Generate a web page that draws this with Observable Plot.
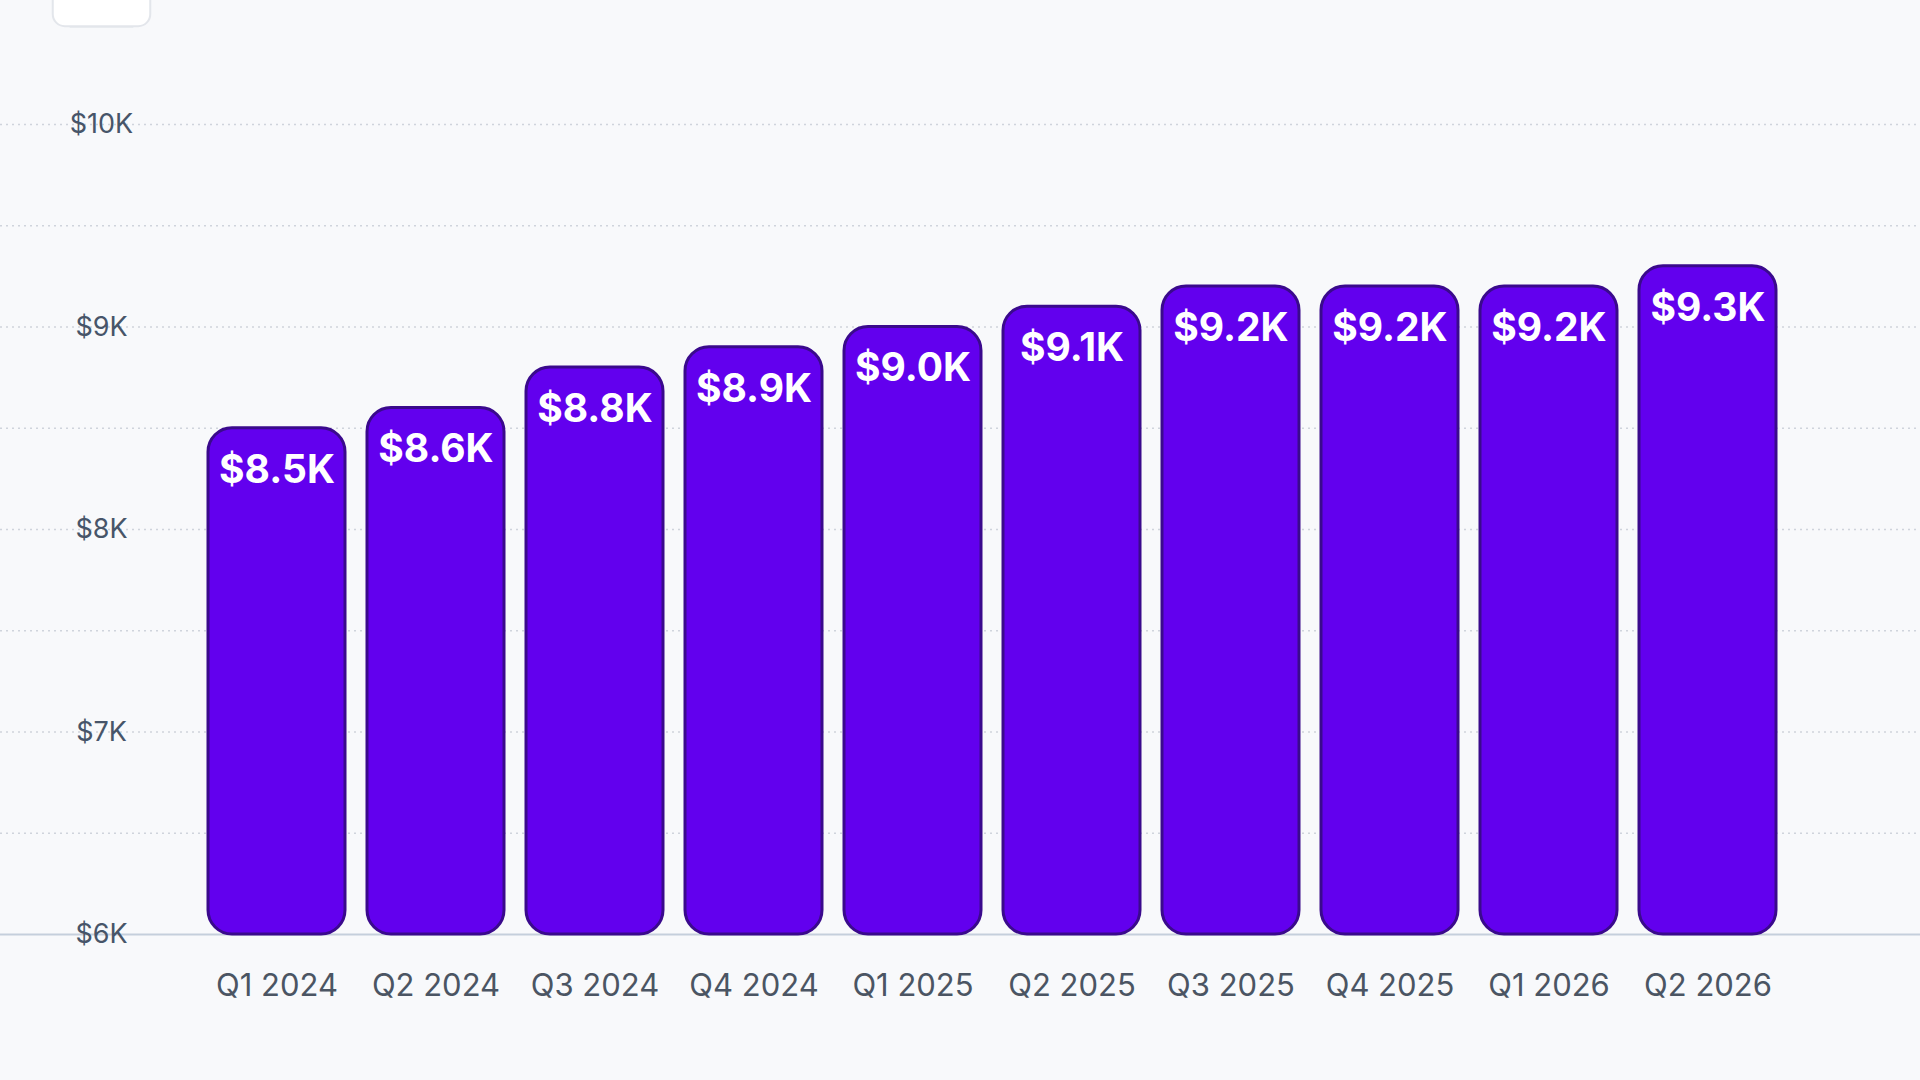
<!DOCTYPE html>
<html><head><meta charset="utf-8">
<script src="https://cdn.jsdelivr.net/npm/d3@7"></script>
<script src="https://cdn.jsdelivr.net/npm/@observablehq/plot@0.6"></script>
<style>html,body{margin:0;background:#f8f9fb;}svg{display:block;}</style>
</head><body><div id="c"></div>
<script>
const quarters = ["Q1 2024","Q2 2024","Q3 2024","Q4 2024","Q1 2025","Q2 2025","Q3 2025","Q4 2025","Q1 2026","Q2 2026"];
const values = [8500,8600,8800,8900,9000,9100,9200,9200,9200,9300];
const labels = ["$8.5K","$8.6K","$8.8K","$8.9K","$9.0K","$9.1K","$9.2K","$9.2K","$9.2K","$9.3K"];
const tickValues = [6000,7000,8000,9000,10000];
const tickLabels = ["$6K","$7K","$8K","$9K","$10K"];
const gridValues = [6500,7000,7500,8000,8500,9000,9500,10000];

const data = quarters.map((q,i)=>({q, v: values[i], label: labels[i]}));
const ticks = tickValues.map((v,i)=>({v, t: tickLabels[i]}));

const chart = Plot.plot({
  width:1920, height:1080,
  marginLeft:0, marginRight:0, marginTop:0, marginBottom:0,
  style:{background:"#f8f9fb", fontFamily:"Inter, sans-serif"},
  x:{domain:quarters, range:[183,1800], padding:0.14, axis:null},
  y:{domain:[6000,10000], range:[934,124], axis:null},
  marks:[
    Plot.ruleY(gridValues,{stroke:"#cfd4dc", strokeWidth:1.5, strokeDasharray:"2,4"}),
    Plot.ruleY([6000],{stroke:"#c5cfdc", strokeWidth:2}),
    Plot.barY(data,{x:"q", y1:6000, y2:"v", fill:"#6200ee", stroke:"#3a0a8c", strokeWidth:3, rx:24}),
    Plot.text(data,{x:"q", y:"v", text:"label", dy:42, fill:"white", fontWeight:"bold", fontSize:39}),
    Plot.text(quarters,{x:d=>d, y:6000, text:d=>d, dy:52, fill:"#4b5563", fontSize:31}),
    Plot.text(ticks,{y:"v", text:"t", frameAnchor:"left", dx:101, textAnchor:"middle", fill:"#475569", fontSize:27})
  ]
});
document.getElementById("c").appendChild(chart);
d3.select(chart).selectAll('g[fill="#475569"] text').each(function(){
  const b = this.getBBox();
  const padX = 17, padY = 11;
  d3.select(this.parentNode).insert("rect", () => this)
    .attr("x", b.x - padX).attr("y", b.y - padY + 1)
    .attr("width", b.width + 2*padX).attr("height", b.height + 2*padY - 2)
    .attr("rx", 12).attr("fill", "white").attr("stroke", "#e3e6eb").attr("stroke-width", 2);
});
</script></body></html>
